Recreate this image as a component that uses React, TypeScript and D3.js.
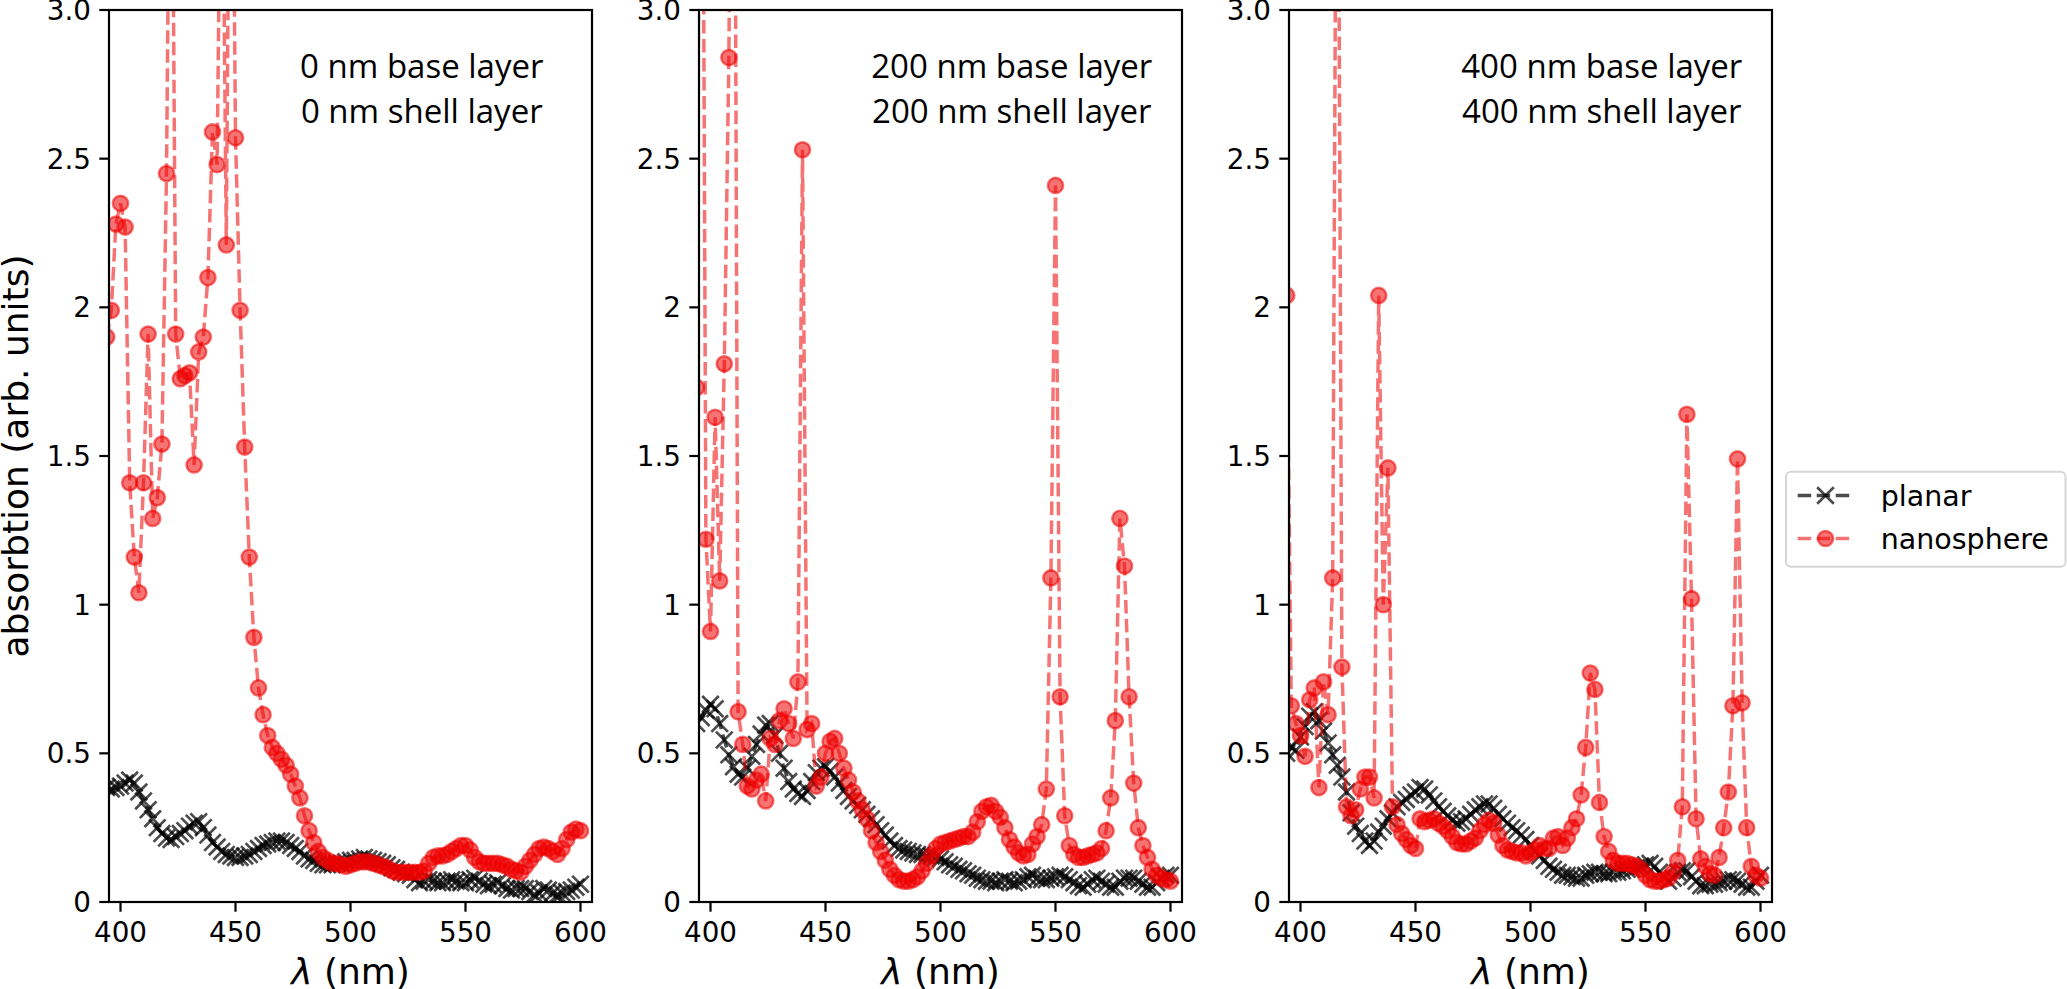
import React from 'react';
import * as d3 from 'd3';

// wavelengths sampled every 2 nm
const wavelengths: number[] = d3.range(394, 601, 2);

// Panel 1 : 0 nm base / 0 nm shell
const planar0 = [
  0.385, 0.38, 0.385, 0.39, 0.40, 0.41, 0.40, 0.37, 0.34, 0.31,
  0.28, 0.25, 0.23, 0.215, 0.21, 0.22, 0.23, 0.24, 0.255, 0.265,
  0.27, 0.25, 0.225, 0.20, 0.185, 0.17, 0.16, 0.155, 0.15, 0.15,
  0.155, 0.16, 0.17, 0.18, 0.19, 0.195, 0.20, 0.205, 0.205, 0.20,
  0.19, 0.18, 0.17, 0.155, 0.145, 0.14, 0.13, 0.125, 0.125, 0.125,
  0.13, 0.13, 0.135, 0.14, 0.14, 0.145, 0.15, 0.145, 0.14, 0.135,
  0.13, 0.125, 0.115, 0.11, 0.10, 0.095, 0.09, 0.075, 0.065, 0.07,
  0.075, 0.07, 0.065, 0.065, 0.07, 0.075, 0.07, 0.065, 0.065, 0.075,
  0.08, 0.07, 0.06, 0.055, 0.06, 0.065, 0.055, 0.045, 0.04, 0.045,
  0.045, 0.045, 0.035, 0.025, 0.03, 0.045, 0.04, 0.03, 0.025, 0.03,
  0.035, 0.04, 0.05, 0.06,
];
const nano0 = [
  1.90, 1.99, 2.28, 2.35, 2.27, 1.41, 1.16, 1.04, 1.41, 1.91,
  1.29, 1.36, 1.54, 2.45, 4.2, 1.91, 1.76, 1.77, 1.78, 1.47,
  1.85, 1.90, 2.10, 2.59, 2.48, 3.9, 2.21, 4.4, 2.57, 1.99,
  1.53, 1.16, 0.89, 0.72, 0.63, 0.56, 0.52, 0.50, 0.48, 0.46,
  0.43, 0.39, 0.35, 0.29, 0.24, 0.20, 0.17, 0.15, 0.14, 0.13,
  0.13, 0.125, 0.12, 0.125, 0.13, 0.135, 0.135, 0.135, 0.13, 0.125,
  0.12, 0.115, 0.105, 0.10, 0.10, 0.10, 0.10, 0.10, 0.10, 0.105,
  0.13, 0.15, 0.155, 0.155, 0.16, 0.17, 0.18, 0.19, 0.19, 0.175,
  0.15, 0.135, 0.13, 0.13, 0.13, 0.13, 0.125, 0.12, 0.11, 0.105,
  0.10, 0.12, 0.14, 0.16, 0.18, 0.185, 0.18, 0.17, 0.16, 0.18,
  0.21, 0.235, 0.245, 0.24,
];

// Panel 2 : 200 nm base / 200 nm shell
const planar1 = [
  0.60, 0.62, 0.645, 0.665, 0.65, 0.60, 0.545, 0.495, 0.455, 0.43,
  0.42, 0.45, 0.49, 0.53, 0.565, 0.595, 0.60, 0.56, 0.50, 0.45,
  0.405, 0.38, 0.365, 0.355, 0.375, 0.405, 0.435, 0.45, 0.455, 0.44,
  0.42, 0.40, 0.375, 0.355, 0.34, 0.325, 0.31, 0.295, 0.28, 0.26,
  0.24, 0.225, 0.205, 0.19, 0.18, 0.175, 0.17, 0.165, 0.16, 0.16,
  0.155, 0.155, 0.15, 0.145, 0.135, 0.125, 0.12, 0.11, 0.105, 0.095,
  0.09, 0.08, 0.075, 0.07, 0.07, 0.065, 0.07, 0.075, 0.07, 0.065,
  0.07, 0.075, 0.085, 0.09, 0.08, 0.075, 0.075, 0.08, 0.085, 0.09,
  0.085, 0.075, 0.065, 0.055, 0.05, 0.06, 0.075, 0.08, 0.07, 0.06,
  0.05, 0.05, 0.07, 0.08, 0.08, 0.08, 0.07, 0.06, 0.05, 0.05,
  0.065, 0.08, 0.09, 0.09,
];
const nano1 = [
  1.73, 5.0, 1.22, 0.91, 1.63, 1.08, 1.81, 2.84, 5.0, 0.64,
  0.53, 0.39, 0.38, 0.41, 0.43, 0.34, 0.55, 0.53, 0.61, 0.65,
  0.60, 0.55, 0.74, 2.53, 0.58, 0.60, 0.39, 0.42, 0.50, 0.54,
  0.55, 0.50, 0.45, 0.41, 0.37, 0.34, 0.31, 0.28, 0.24, 0.20,
  0.17, 0.14, 0.11, 0.09, 0.075, 0.07, 0.07, 0.075, 0.085, 0.105,
  0.13, 0.155, 0.18, 0.195, 0.20, 0.205, 0.21, 0.215, 0.22, 0.22,
  0.235, 0.27, 0.305, 0.32, 0.325, 0.305, 0.285, 0.25, 0.21, 0.185,
  0.165, 0.155, 0.16, 0.195, 0.22, 0.26, 0.38, 1.09, 2.41, 0.69,
  0.29, 0.19, 0.16, 0.15, 0.15, 0.155, 0.16, 0.165, 0.18, 0.24,
  0.35, 0.61, 1.29, 1.13, 0.69, 0.40, 0.25, 0.19, 0.15, 0.11,
  0.09, 0.08, 0.075, 0.07,
];

// Panel 3 : 400 nm base / 400 nm shell
const planar2 = [
  0.50, 0.52, 0.51, 0.555, 0.59, 0.625, 0.64, 0.61, 0.575, 0.535,
  0.495, 0.46, 0.42, 0.37, 0.30, 0.255, 0.23, 0.205, 0.19, 0.205,
  0.235, 0.255, 0.28, 0.30, 0.32, 0.335, 0.345, 0.36, 0.37, 0.385,
  0.38, 0.36, 0.34, 0.32, 0.305, 0.29, 0.275, 0.265, 0.27, 0.28,
  0.295, 0.31, 0.32, 0.33, 0.33, 0.315, 0.295, 0.28, 0.265, 0.25,
  0.24, 0.225, 0.21, 0.19, 0.17, 0.155, 0.14, 0.12, 0.11, 0.10,
  0.09, 0.09, 0.085, 0.08, 0.08, 0.09, 0.095, 0.10, 0.10, 0.095,
  0.095, 0.10, 0.10, 0.105, 0.11, 0.11, 0.115, 0.12, 0.125, 0.13,
  0.12, 0.10, 0.085, 0.07, 0.08, 0.10, 0.105, 0.105, 0.085, 0.07,
  0.055, 0.055, 0.06, 0.06, 0.065, 0.07, 0.075, 0.075, 0.07, 0.06,
  0.05, 0.05, 0.07, 0.09,
];
const nano2 = [
  2.04, 0.66, 0.60, 0.56, 0.49, 0.68, 0.72, 0.385, 0.74, 0.63,
  1.09, 4.5, 0.79, 0.32, 0.29, 0.31, 0.38, 0.42, 0.42, 0.35,
  2.04, 1.00, 1.46, 0.32, 0.26, 0.23, 0.21, 0.19, 0.18, 0.28,
  0.27, 0.275, 0.28, 0.265, 0.255, 0.24, 0.22, 0.20, 0.195, 0.195,
  0.205, 0.215, 0.24, 0.26, 0.275, 0.265, 0.225, 0.19, 0.175, 0.17,
  0.165, 0.165, 0.155, 0.165, 0.175, 0.19, 0.18, 0.18, 0.215, 0.22,
  0.19, 0.215, 0.25, 0.28, 0.36, 0.52, 0.77, 0.715, 0.335, 0.22,
  0.17, 0.14, 0.13, 0.13, 0.13, 0.125, 0.12, 0.11, 0.09, 0.075,
  0.07, 0.07, 0.075, 0.08, 0.10, 0.14, 0.32, 1.64, 1.02, 0.28,
  0.145, 0.12, 0.095, 0.09, 0.15, 0.25, 0.37, 0.66, 1.49, 0.67,
  0.25, 0.12, 0.09, 0.08,
];

const planarSeries = [planar0, planar1, planar2];
const nanoSeries = [nano0, nano1, nano2];
const panelNotes = [
  ['0 nm base layer', '0 nm shell layer'],
  ['200 nm base layer', '200 nm shell layer'],
  ['400 nm base layer', '400 nm shell layer'],
];
const xTicks = [400, 450, 500, 550, 600];
const yTicks = [0, 0.5, 1, 1.5, 2, 2.5, 3];
const yTickLabels = ['0', '0.5', '1', '1.5', '2', '2.5', '3.0'];
const legendLabels = ['planar', 'nanosphere'];
const xDomain = [395, 605];
const yDomain = [0, 3];
const noteX = 531;

const FONT = "'DejaVu Sans', Verdana, sans-serif";
const NOTE_FONT = "'Open Sans', sans-serif";
const RED = '#ee0000';
const RED_OP = 0.55;
const BLACK_OP = 0.7;

function XMark({ cx, cy, s, sw }: { cx: number; cy: number; s: number; sw: number }) {
  return (
    <path
      d={`M${cx - s},${cy - s}L${cx + s},${cy + s}M${cx - s},${cy + s}L${cx + s},${cy - s}`}
      stroke="#000"
      strokeOpacity={BLACK_OP}
      strokeWidth={sw}
      fill="none"
    />
  );
}

export default function App() {
  const W = 2067;
  const H = 989;
  const lefts = [109, 699, 1289];
  const pw = 483;
  const top = 10;
  const bottom = 902;
  const y = d3.scaleLinear().domain(yDomain).range([bottom, top]);

  const panels = lefts.map((left, i) => {
    const x = d3.scaleLinear().domain(xDomain).range([left, left + pw]);
    const line = d3
      .line<[number, number]>()
      .x((d) => x(d[0]))
      .y((d) => y(d[1]));
    const pl: [number, number][] = wavelengths.map((w, k) => [w, planarSeries[i][k]]);
    const nn: [number, number][] = wavelengths.map((w, k) => [w, nanoSeries[i][k]]);
    const cx = left + pw / 2;
    return (
      <g key={i}>
        <clipPath id={`clip${i}`}>
          <rect x={left} y={top} width={pw} height={bottom - top} />
        </clipPath>
        <g clipPath={`url(#clip${i})`}>
          <path
            d={line(pl) || ''}
            fill="none"
            stroke="#000"
            strokeOpacity={BLACK_OP}
            strokeWidth={3.5}
            strokeDasharray="13.5 5.5"
          />
          {pl.map((d, k) => (
            <XMark key={k} cx={x(d[0])} cy={y(d[1])} s={8.3} sw={2.7} />
          ))}
          <path
            d={line(nn) || ''}
            fill="none"
            stroke={RED}
            strokeOpacity={RED_OP}
            strokeWidth={3.5}
            strokeDasharray="13.5 5.5"
          />
          {nn.map((d, k) => (
            <circle
              key={k}
              cx={x(d[0])}
              cy={y(d[1])}
              r={7.6}
              fill={RED}
              fillOpacity={RED_OP}
              stroke={RED}
              strokeOpacity={RED_OP}
              strokeWidth={2.5}
            />
          ))}
        </g>
        <rect x={left} y={top} width={pw} height={bottom - top} fill="none" stroke="#000" strokeWidth={2.2} />
        {xTicks.map((t) => (
          <g key={t}>
            <line x1={x(t)} x2={x(t)} y1={bottom} y2={bottom + 9.7} stroke="#000" strokeWidth={2.2} />
            <text x={x(t)} y={941.5} textAnchor="middle" fontFamily={FONT} fontSize={27.8} fill="#000">
              {t}
            </text>
          </g>
        ))}
        {yTicks.map((t, k) => (
          <g key={t}>
            <line x1={left - 9.7} x2={left} y1={y(t)} y2={y(t)} stroke="#000" strokeWidth={2.2} />
            <text x={left - 18} y={y(t) + 10.1} textAnchor="end" fontFamily={FONT} fontSize={27.8} fill="#000">
              {yTickLabels[k]}
            </text>
          </g>
        ))}
        <text x={cx} y={983.5} textAnchor="middle" fontFamily={FONT} fontSize={36} fill="#000">
          <tspan fontStyle="italic">λ</tspan>
          <tspan> (nm)</tspan>
        </text>
        {panelNotes[i].map((s, k) => (
          <text
            key={k}
            x={x(noteX)}
            y={78.4 + k * 45}
            textAnchor="middle"
            fontFamily={NOTE_FONT}
            fontSize={33}
            fill="#000"
          >
            {s}
          </text>
        ))}
      </g>
    );
  });

  const lgX = 1786;
  const lgY = 471.7;
  const lgW = 279.5;
  const lgH = 95;
  const hx1 = 1797.7;
  const hx2 = 1853.3;
  const hmid = (hx1 + hx2) / 2;
  const row = [495.5, 538.5];

  return (
    <svg
      width={W}
      height={H}
      viewBox={`0 0 ${W} ${H}`}
      style={{ position: 'absolute', left: 0, top: 0, background: '#fff' }}
    >
      <rect x={0} y={0} width={W} height={H} fill="#fff" />
      {panels}
      <text
        transform={`translate(28,456) rotate(-90)`}
        textAnchor="middle"
        fontFamily={FONT}
        fontSize={36}
        fill="#000"
      >
        absorbtion (arb. units)
      </text>
      <g>
        <rect x={lgX} y={lgY} width={lgW} height={lgH} rx={5} ry={5} fill="#fff" fillOpacity={0.8} stroke="#d6d6d6" strokeWidth={2} />
        <line x1={hx1} x2={hx2} y1={row[0]} y2={row[0]} stroke="#000" strokeOpacity={BLACK_OP} strokeWidth={3.5} strokeDasharray="13.5 5.5" />
        <XMark cx={hmid} cy={row[0]} s={8.3} sw={2.7} />
        <line x1={hx1} x2={hx2} y1={row[1]} y2={row[1]} stroke={RED} strokeOpacity={RED_OP} strokeWidth={3.5} strokeDasharray="13.5 5.5" />
        <circle cx={hmid} cy={row[1]} r={7.6} fill={RED} fillOpacity={RED_OP} stroke={RED} strokeOpacity={RED_OP} strokeWidth={2.5} />
        {legendLabels.map((s, k) => (
          <text key={s} x={1880.7} y={row[k] + 10} fontFamily={FONT} fontSize={28.5} fill="#000">
            {s}
          </text>
        ))}
      </g>
    </svg>
  );
}
